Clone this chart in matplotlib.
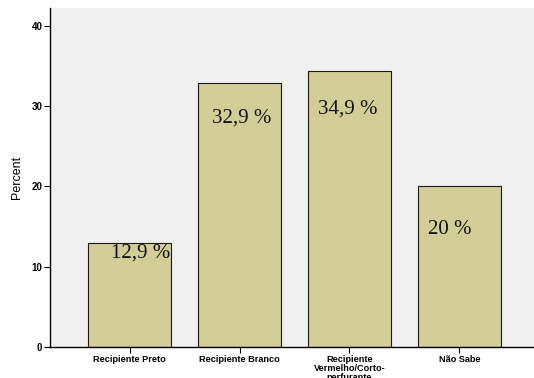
import matplotlib
matplotlib.use("Agg")
import matplotlib.pyplot as plt
import numpy as np

categories = ["Recipiente Preto", "Recipiente Branco", "Recipiente\nVermelho/Corto-\nperfurante", "Não Sabe"]
values = [12.9, 32.9, 34.3, 20.0]
labels = ["12,9 %", "32,9 %", "34,9 %", "20 %"]
yticks = [0, 10, 20, 30, 40]

# label offsets in pixels (dx, dy) relative to bar top-center
label_offsets = [(11, -10), (2, -35), (-2, -38), (-10, -43)]

fig = plt.figure(figsize=(5.34, 3.78), dpi=100)
W, H = 534, 378
left, right, top, bottom = 50, 539, 8, 347
ax = fig.add_axes([left / W, 1 - bottom / H, (right - left) / W, (bottom - top) / H])
ax.set_facecolor("#F0F0F0")

x = np.arange(len(categories))
ax.bar(x, values, width=0.755, color="#D3CE98", edgecolor="#1a1a1a", linewidth=0.8, zorder=2)

ax.set_xlim(-0.723, len(categories) - 1 + 0.723)
ax.set_ylim(0, 42.2)
ax.set_yticks(yticks)
ax.set_yticklabels([str(t) for t in yticks], fontsize=7, fontweight="bold", family="Liberation Sans")
ax.set_xticks(x)
ax.set_xticklabels(categories, fontsize=6.6, fontweight="bold", family="Liberation Sans", linespacing=1.0)
ax.tick_params(axis="both", length=4, width=0.8, color="black")
ax.tick_params(axis="x", pad=2)
ax.tick_params(axis="y", pad=1.5)

for s in ["top", "right"]:
    ax.spines[s].set_visible(False)
for s in ["left", "bottom"]:
    ax.spines[s].set_linewidth(1.0)
    ax.spines[s].set_color("black")

ax.set_ylabel("Percent", fontsize=9, family="Liberation Sans", labelpad=6)

for xi, v, lab, (dx, dy) in zip(x, values, labels, label_offsets):
    ax.annotate(lab, xy=(xi, v), xytext=(dx * 72 / 100, dy * 72 / 100), textcoords="offset points",
                ha="center", va="center", fontsize=15, family="Liberation Serif", color="#111111", zorder=3)

fig.savefig("out.png", dpi=100, facecolor="white")
